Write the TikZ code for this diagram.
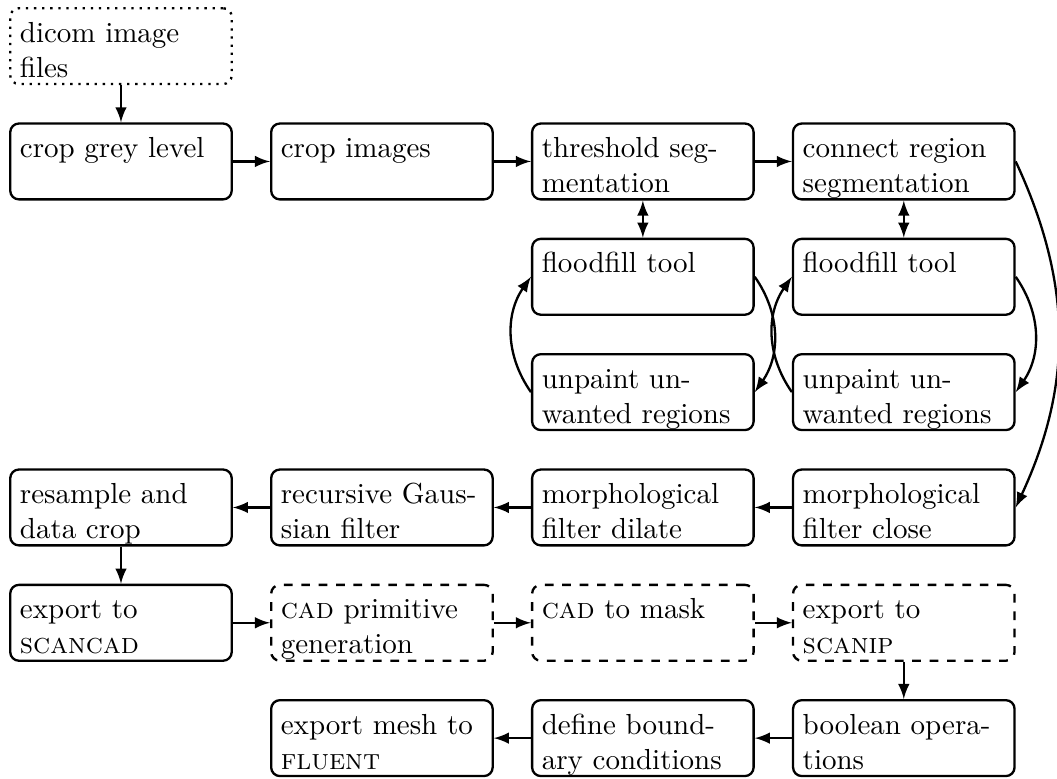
\documentclass[tikz,border=0pt]{standalone}
\usetikzlibrary{arrows,positioning}

\begin{document}
\begin{tikzpicture}[node distance=0.45cm, thick,
    box/.style = {draw, rounded corners=3pt, text width=2.45cm, align=left,
        text height=8.4pt, text depth=11.1pt},
    cadbox/.style = {box, dashed},
    inbox/.style = {box, dotted}]
\useasboundingbox (-0.11,0.085) rectangle (12.70,-9.345);
% segmentation
\node[inbox, anchor=north west] (dicom) at (0,0) {dicom image files};
\node[box, below=of dicom] (grey) {crop grey level};
\node[box, right=of grey] (crop) {crop images};
\node[box, right=of crop] (thr) {threshold segmentation};
\node[box, right=of thr] (conn) {connect region segmentation};
\node[box, below=of thr] (fill1) {floodfill tool};
\node[box, below=of fill1] (unp1) {unpaint unwanted regions};
\node[box, below=of conn] (fill2) {floodfill tool};
\node[box, below=of fill2] (unp2) {unpaint unwanted regions};
% filters
\node[box, below=of unp2] (close) {morphological filter close};
\node[box, left=of close] (dilate) {morphological filter dilate};
\node[box, left=of dilate] (gauss) {recursive Gaussian filter};
\node[box, left=of gauss] (resamp) {resample and data crop};
% cad
\node[box, below=of resamp] (scancad) {export to \textsc{scancad}};
\node[cadbox, right=of scancad] (prim) {\textsc{cad} primitive generation};
\node[cadbox, right=of prim] (mask) {\textsc{cad} to mask};
\node[cadbox, right=of mask] (scanip) {export to \mbox{\textsc{scanip}}};
% mesh
\node[box, below=of scanip] (bool) {boolean operations};
\node[box, left=of bool] (bound) {define boundary conditions};
\node[box, left=of bound] (mesh) {export mesh to \textsc{fluent}};

\draw[-latex] (dicom) -- (grey);
\draw[-latex] (grey) -- (crop);
\draw[-latex] (crop) -- (thr);
\draw[-latex] (thr) -- (conn);
\draw[latex-latex] (thr) -- (fill1);
\draw[latex-latex] (conn) -- (fill2);
\draw[-latex] (fill1.east) to[bend left=35] (unp1.east);
\draw[-latex] (unp1.west) to[bend left=35] (fill1.west);
\draw[-latex] (fill2.east) to[bend left=35] (unp2.east);
\draw[-latex] (unp2.west) to[bend left=35] (fill2.west);
\draw[-latex] (conn.east) to[bend left=25] (close.east);
\draw[-latex] (close) -- (dilate);
\draw[-latex] (dilate) -- (gauss);
\draw[-latex] (gauss) -- (resamp);
\draw[-latex] (resamp) -- (scancad);
\draw[-latex] (scancad) -- (prim);
\draw[-latex] (prim) -- (mask);
\draw[-latex] (mask) -- (scanip);
\draw[-latex] (scanip) -- (bool);
\draw[-latex] (bool) -- (bound);
\draw[-latex] (bound) -- (mesh);
\end{tikzpicture}
\end{document}
